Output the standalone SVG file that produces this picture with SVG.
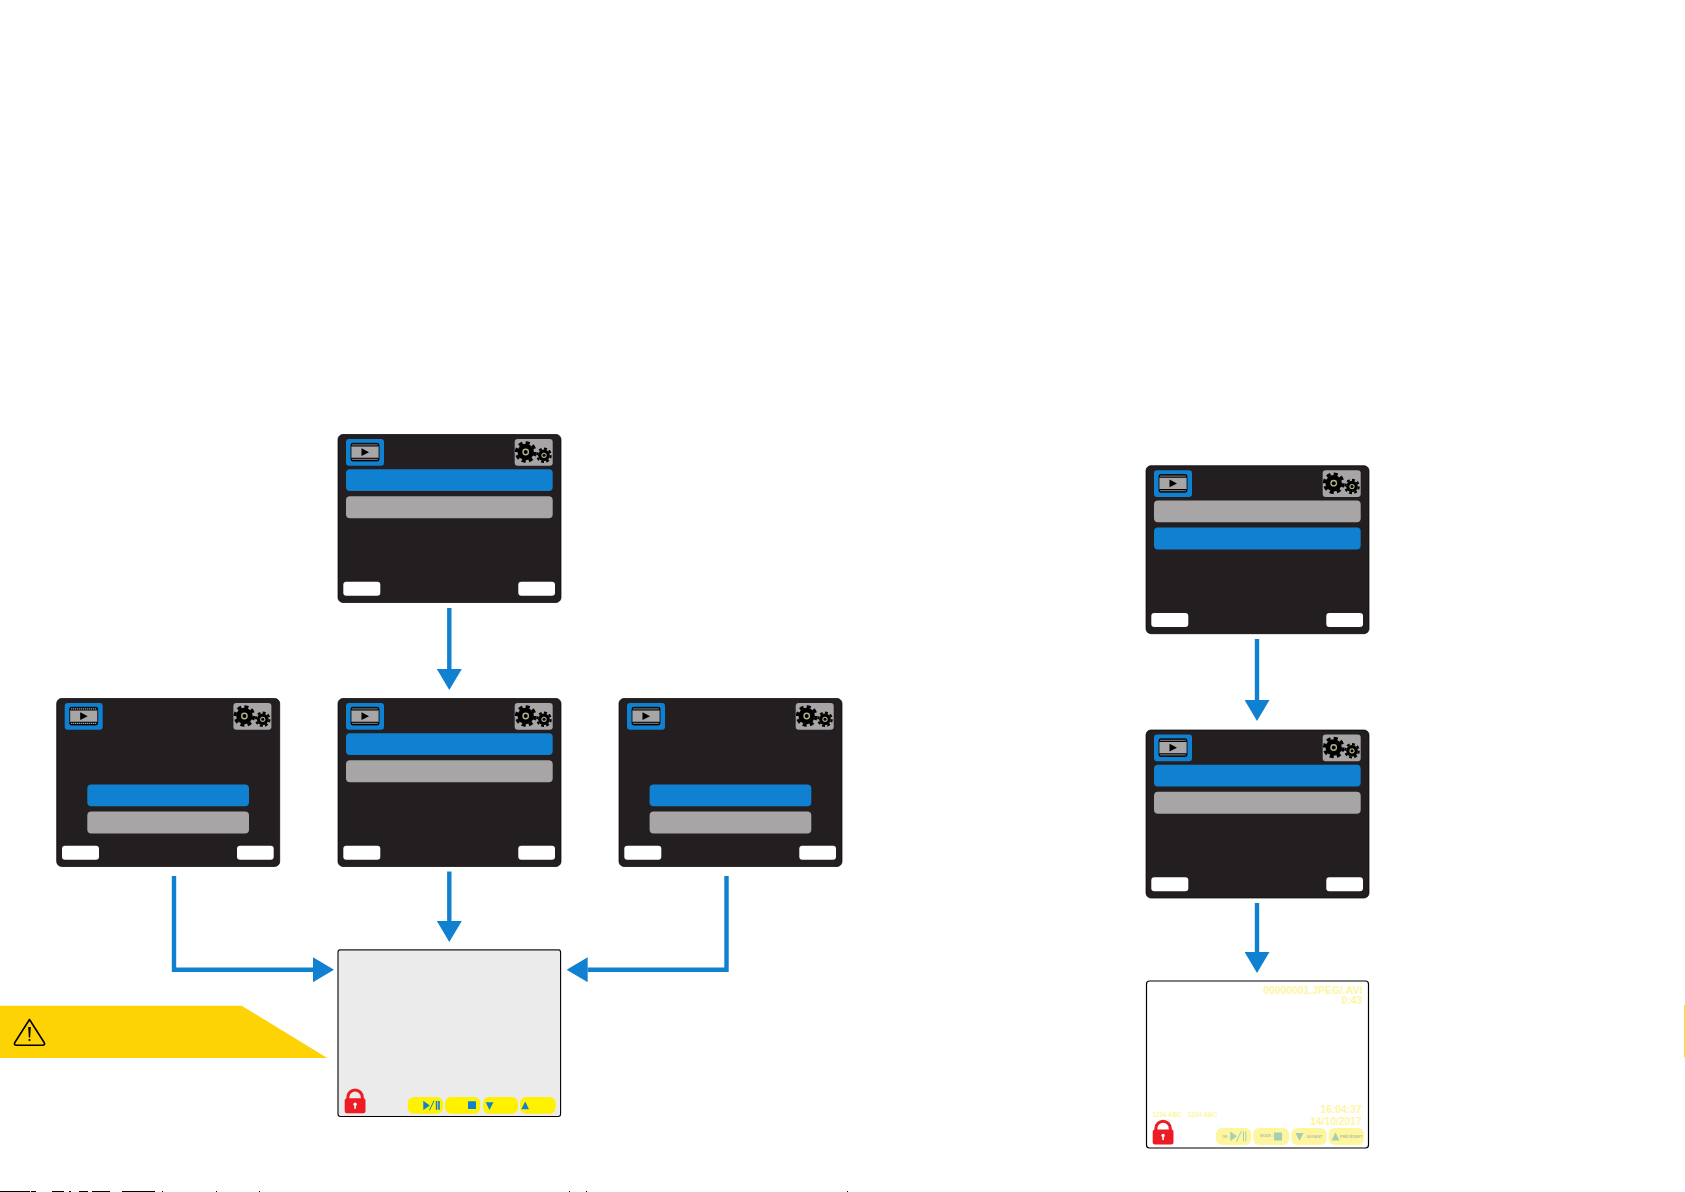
<svg xmlns="http://www.w3.org/2000/svg" width="1685" height="1192" viewBox="0 0 1685 1192">
<style>
.frame{fill:#231f20;stroke:#000;stroke-width:.7}
.tile-blue{fill:#1080d0}
.tile-grey{fill:#a7a5a6}
.bar-blue{fill:#1080d0}
.bar-grey{fill:#a7a5a6}
.btn-white{fill:#fff}
.conn{fill:none;stroke:#1080d0;stroke-width:4.4}
.play-frame{fill:#ebebeb;stroke:#000;stroke-width:1.1}
.btn-y{fill:#fff200}
.btn-p{fill:#fdf69f}
.sym{fill:#1080d0}
.sym-p{fill:#a5cdb8}
.lbl{font-family:"Liberation Sans",Arial,sans-serif;font-weight:700;fill:#fdf69f}
.tiny{font-family:"Liberation Sans",Arial,sans-serif;font-weight:700;fill:#b4c4a4;font-size:3.6px}
</style>
<defs>
<marker id="arrow" viewBox="0 0 21 25" refX="0" refY="12.5" markerWidth="21" markerHeight="25" markerUnits="userSpaceOnUse" orient="auto">
<path d="M0 0L21 12.5L0 25Z" fill="#1080d0"/>
</marker>
<g id="gear-big">
<circle r="8.2" fill="#000"/>
<circle r="9.3" fill="none" stroke="#000" stroke-width="3" pathLength="80" stroke-dasharray="5.6 4.4"/>
<circle r="3.4" fill="#b5b28a"/>
<circle r="2" fill="#000"/>
</g>
<g id="gear-small">
<circle r="5.8" fill="#000"/>
<circle r="6.7" fill="none" stroke="#000" stroke-width="2.2" pathLength="80" stroke-dasharray="5.6 4.4"/>
<circle r="2.6" fill="#b5b28a"/>
<circle r="1.5" fill="#000"/>
</g>
<g id="chrome">
<rect class="frame" x="0" y="0" width="223" height="168" rx="5"/>
<rect class="tile-blue" x="8" y="4.5" width="38" height="26.7" rx="3"/>
<rect x="13" y="8.8" width="28" height="17.7" rx="2" fill="#a7a5a6" stroke="#000" stroke-width=".8"/>
<rect x="13" y="8.8" width="28" height="3.2" rx="1" fill="#000"/>
<rect x="13" y="23.3" width="28" height="3.2" rx="1" fill="#000"/>
<path d="M14.5 10.4H39.5M14.5 24.9H39.5" stroke="#c9c7c8" stroke-width="1.1" stroke-dasharray="1.1 .9" fill="none"/>
<path d="M23.5 13.8L31 17.7L23.5 21.6Z" fill="#000"/>
<rect class="tile-grey" x="176.7" y="4.5" width="38" height="26.7" rx="3"/>
<use href="#gear-big" x="187.7" y="17.5"/>
<use href="#gear-small" x="206" y="20.8"/>
<rect class="btn-white" x="5.3" y="147.2" width="37" height="14" rx="3"/>
<rect class="btn-white" x="180.3" y="147.2" width="36.7" height="14" rx="3"/>
</g>
<g id="lock">
<path d="M3.2 12V8.5a7.2 7.2 0 0 1 14.4 0V12" fill="none" stroke="#ed1c24" stroke-width="3"/>
<rect x="0" y="9.5" width="20.8" height="15" rx="2.2" fill="#ed1c24"/>
<circle cx="10.4" cy="15.5" r="1.7" fill="#fff"/>
<rect x="9.6" y="15.5" width="1.6" height="4.6" fill="#fff"/>
</g>
</defs>

<g id="connectors">
<path class="conn" d="M449.3 608V669" marker-end="url(#arrow)"/>
<path class="conn" d="M449.3 871.5V921" marker-end="url(#arrow)"/>
<path class="conn" d="M174 876V969.7H313" marker-end="url(#arrow)"/>
<path class="conn" d="M726.5 876V969.7H587.7" marker-end="url(#arrow)"/>
<path class="conn" d="M1257 639V700" marker-end="url(#arrow)"/>
<path class="conn" d="M1257 903V952" marker-end="url(#arrow)"/>
</g>

<g id="screen-top" transform="translate(338,434.5)">
<use href="#chrome"/>
<rect class="bar-blue" x="8" y="34.8" width="206.7" height="21.7" rx="4"/>
<rect class="bar-grey" x="8" y="61.8" width="206.7" height="22" rx="4"/>
</g>
<g id="screen-left" transform="translate(56.7,698.5)">
<use href="#chrome"/>
<rect class="bar-blue" x="30.6" y="86" width="161.7" height="21.7" rx="4"/>
<rect class="bar-grey" x="30.6" y="113" width="161.7" height="22" rx="4"/>
</g>
<g id="screen-middle" transform="translate(338,698.5)">
<use href="#chrome"/>
<rect class="bar-blue" x="8" y="34.8" width="206.7" height="21.7" rx="4"/>
<rect class="bar-grey" x="8" y="61.8" width="206.7" height="22" rx="4"/>
</g>
<g id="screen-right" transform="translate(619,698.5)">
<use href="#chrome"/>
<rect class="bar-blue" x="30.6" y="86" width="161.7" height="21.7" rx="4"/>
<rect class="bar-grey" x="30.6" y="113" width="161.7" height="22" rx="4"/>
</g>

<g id="screen-playback">
<rect class="play-frame" x="338" y="949.7" width="222.6" height="166.8" rx="2.5"/>
<path d="M339 949.7H559.6" stroke="#555" stroke-width="1.6"/>
<use href="#lock" x="344.7" y="1088.7"/>
<rect class="btn-y" x="407.7" y="1097" width="35.3" height="16.7" rx="6"/>
<rect class="btn-y" x="445" y="1097" width="35.3" height="16.7" rx="6"/>
<rect class="btn-y" x="483" y="1097" width="35" height="16.7" rx="6"/>
<rect class="btn-y" x="520" y="1097" width="35.7" height="16.7" rx="6"/>
<path class="sym" d="M423.3 1100.7V1110L429.8 1105.4ZM435.8 1101H437.4V1109.8H435.8ZM438.2 1101H439.8V1109.8H438.2Z"/>
<path d="M429.5 1110.2L434 1100.8" stroke="#1080d0" stroke-width="1" fill="none"/>
<rect class="sym" x="468" y="1101.3" width="8" height="7.8" rx="0.5"/>
<path class="sym" d="M485.7 1102.2H493.4L489.5 1110Z"/>
<path class="sym" d="M521.3 1109.2H529L525.2 1101.4Z"/>
</g>

<g id="screen-menu-2" transform="translate(1146,465.7)">
<use href="#chrome"/>
<rect class="bar-grey" x="8" y="34.8" width="206.7" height="21.7" rx="4"/>
<rect class="bar-blue" x="8" y="61.8" width="206.7" height="22" rx="4"/>
</g>
<g id="screen-menu-3" transform="translate(1146,730)">
<use href="#chrome"/>
<rect class="bar-blue" x="8" y="34.8" width="206.7" height="21.7" rx="4"/>
<rect class="bar-grey" x="8" y="61.8" width="206.7" height="22" rx="4"/>
</g>

<g id="screen-playback-2">
<rect x="1146.5" y="981" width="222" height="167" rx="3" fill="#fff" stroke="#000" stroke-width="1.2"/>
<text class="lbl" x="1362.3" y="994" text-anchor="end" font-size="10.4">00000001.JPEG/.AVI</text>
<text class="lbl" x="1362.3" y="1004" text-anchor="end" font-size="10.4">0:43</text>
<text class="lbl" x="1361.7" y="1113.3" text-anchor="end" font-size="10.3">16:04:37</text>
<text class="lbl" x="1361.7" y="1125.3" text-anchor="end" font-size="10.3">14/10/2017</text>
<text class="lbl" x="1152.3" y="1117" font-size="6.4">1234 ABC</text>
<text class="lbl" x="1187.7" y="1117" font-size="6.4">1234 ABC</text>
<use href="#lock" x="1152.7" y="1120"/>
<rect class="btn-p" x="1216" y="1128" width="35.3" height="17" rx="6"/>
<rect class="btn-p" x="1253.3" y="1128" width="35.7" height="17" rx="6"/>
<rect class="btn-p" x="1291.3" y="1128" width="35.3" height="17" rx="6"/>
<rect class="btn-p" x="1328.7" y="1128" width="35.3" height="17" rx="6"/>
<text class="tiny" x="1222" y="1137.8">OK :</text>
<path class="sym-p" d="M1230.3 1131.5V1141L1237 1136.2Z"/>
<path d="M1236.5 1141.5L1241.5 1131" stroke="#a5cdb8" stroke-width="1" fill="none"/>
<rect class="sym-p" x="1243" y="1131.5" width="1" height="10"/>
<rect class="sym-p" x="1245.3" y="1131.5" width="1" height="10"/>
<text class="tiny" x="1260" y="1136.8">MODE :</text>
<rect class="sym-p" x="1274" y="1132.5" width="8" height="8" rx="0.5"/>
<path class="sym-p" d="M1295.5 1133H1303.5L1299.5 1141Z"/>
<text class="tiny" x="1304.5" y="1137.8">: SUIVANT</text>
<path class="sym-p" d="M1331.5 1140.5H1339.5L1335.5 1132.5Z"/>
<text class="tiny" x="1340" y="1137.8">PRÉCÉDENT</text>
</g>

<g id="warning">
<path d="M0 1005.7H241.7L327.3 1058H0Z" fill="#fdd305"/>
<path d="M29.5 1019.5L44.3 1042.8Q45.4 1045.2 42.5 1045.2H16.5Q13.6 1045.2 14.7 1042.8Z" fill="none" stroke="#000" stroke-width="1.6" stroke-linejoin="round"/>
<path d="M28.2 1027H30.8L30.2 1037.5H28.8Z" fill="#000"/>
<circle cx="29.5" cy="1040" r="1.1" fill="#000"/>
</g>

<rect x="1684" y="1005" width="1" height="52.5" fill="#ffe600"/>
<path d="M0 1191.5H30M31 1191.5H36M52 1191.5H64M69 1191.5H71M79 1191.5H88M92 1191.5H110M122 1191.5H155M162 1191.5H163M216 1191.5H217M259 1191.5H260M569 1191.5H570M586 1191.5H587M847 1191.5H848" stroke="#000" stroke-width="1" fill="none"/>
</svg>
